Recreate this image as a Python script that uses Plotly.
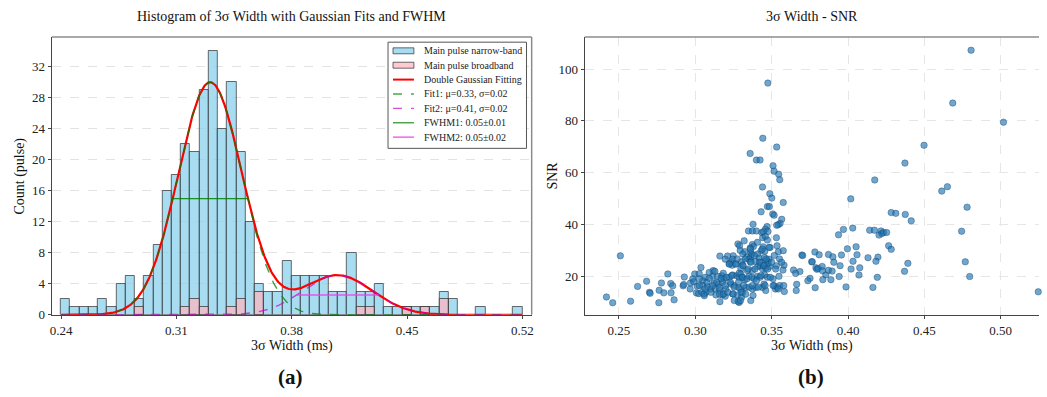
import numpy as np
import plotly.graph_objects as go

W, H = 1047, 397
SERIF = "Liberation Serif"

# ---------------- histogram (50 equal bins on 0.24-0.52 ms) ----------------
BIN_START, BIN_END, N_BINS = 0.24, 0.52, 50
narrow_band_counts = [2, 1, 1, 1, 2, 1, 4, 5, 2, 5,
                      9, 16, 18, 22, 21, 29, 34, 24, 30, 21,
                      12, 4, 3, 3, 7, 5, 5, 5, 5, 3,
                      3, 8, 3, 3, 4, 1, 1, 1, 1, 1,
                      1, 3, 2, 0, 0, 1, 0, 0, 0, 1]
broadband_counts = [0, 0, 0, 0, 0, 0, 0, 0, 1, 0,
                    0, 0, 0, 1, 2, 1, 0, 0, 1, 2,
                    0, 3, 0, 0, 0, 0, 0, 0, 0, 0,
                    0, 0, 1, 1, 0, 0, 0, 1, 0, 1,
                    0, 2, 0, 0, 0, 0, 0, 0, 0, 0]

# double Gaussian fit parameters
fit1_amp, fit1_mu, fit1_sigma = 30.0, 0.3305, 0.0193
fit2_amp, fit2_mu, fit2_sigma = 5.12, 0.4078, 0.0212

hist_x_ticks = [0.24, 0.31, 0.38, 0.45, 0.52]
hist_y_ticks = [0, 4, 8, 12, 16, 20, 24, 28, 32]
snr_x_ticks = [0.25, 0.30, 0.35, 0.40, 0.45, 0.50]
snr_y_ticks = [20, 40, 60, 80, 100]

# ---------------- 3-sigma width vs SNR ----------------
low_width_points = [
    (0.2418, 12.0), (0.2459, 9.8), (0.2509, 27.9), (0.2576, 10.4), (0.2622, 16.1),
    (0.2681, 18.1), (0.2700, 13.8), (0.2704, 13.4), (0.2761, 9.8), (0.2763, 14.6),
    (0.2778, 17.4), (0.2794, 13.6), (0.2820, 20.9), (0.2841, 13.6), (0.2839, 17.2),
    (0.2852, 16.3), (0.2861, 10.9), (0.2920, 16.3), (0.2924, 16.8), (0.2928, 19.7),
    (0.2966, 15.1), (0.2968, 17.4), (0.2983, 19.0), (0.2996, 20.9), (0.3007, 13.6),
    (0.3022, 13.3), (0.2990, 17.9), (0.3012, 16.2),
]
core_points = [
    (0.3576, 48.5), (0.3472, 46.9), (0.3485, 46.9), (0.3431, 44.9), (0.3507, 44.1),
    (0.3516, 43.6), (0.3566, 42.0), (0.3555, 40.4), (0.3543, 39.9), (0.3533, 39.7),
    (0.3378, 40.1), (0.3470, 39.2), (0.3459, 38.2), (0.3348, 37.5), (0.3374, 37.5),
    (0.3400, 37.5), (0.3435, 36.9), (0.3446, 37.2), (0.3476, 37.3), (0.3441, 34.9),
    (0.3459, 35.4), (0.3472, 34.0), (0.3531, 34.9), (0.3320, 33.7), (0.3279, 32.5),
    (0.3290, 31.8), (0.3374, 32.3), (0.3381, 31.5), (0.3359, 30.9), (0.3444, 31.4),
    (0.3431, 29.9), (0.3455, 29.7), (0.3490, 31.1), (0.3294, 30.0), (0.3324, 29.5),
    (0.3365, 29.2), (0.3370, 28.4), (0.3363, 27.5), (0.3311, 28.6), (0.3544, 29.5),
    (0.3248, 27.9), (0.3244, 26.6), (0.3233, 25.3), (0.3337, 27.3), (0.3352, 26.6),
    (0.3359, 25.6), (0.3409, 28.6), (0.3418, 27.0), (0.3396, 25.7), (0.3453, 27.3),
    (0.3468, 26.0), (0.3483, 26.6), (0.3161, 27.8), (0.3211, 27.8), (0.3196, 26.6),
    (0.3222, 24.8), (0.3242, 24.3), (0.3266, 24.8), (0.3303, 25.6), (0.3309, 24.3),
    (0.3298, 22.9), (0.3425, 25.4), (0.3425, 24.1), (0.3440, 22.9), (0.3409, 23.8),
    (0.3453, 24.3), (0.3461, 23.1), (0.3487, 23.8), (0.3476, 25.1), (0.3531, 24.1),
    (0.3581, 24.3), (0.3574, 22.4), (0.3117, 22.2), (0.3091, 21.5), (0.3065, 19.6),
    (0.3048, 18.3), (0.3037, 23.4), (0.3113, 20.0), (0.3146, 20.0), (0.3174, 20.2),
    (0.3189, 19.0), (0.3222, 19.6), (0.3244, 20.5), (0.3270, 20.2), (0.3287, 19.6),
    (0.3298, 20.9), (0.3309, 19.6), (0.3324, 18.7), (0.3341, 22.2), (0.3374, 22.2),
    (0.3352, 20.0), (0.3385, 19.0), (0.3407, 20.0), (0.3424, 19.6), (0.3453, 20.5),
    (0.3472, 19.6), (0.3509, 19.0), (0.3548, 20.0), (0.3516, 16.4), (0.3048, 16.4),
    (0.3080, 16.1), (0.3102, 15.1), (0.3070, 13.8), (0.3059, 12.5), (0.3124, 17.4),
    (0.3152, 17.0), (0.3178, 17.7), (0.3130, 15.1), (0.3161, 14.5), (0.3200, 15.1),
    (0.3135, 12.8), (0.3178, 12.8), (0.3196, 12.3), (0.3233, 17.0), (0.3255, 16.4),
    (0.3283, 15.7), (0.3298, 15.1), (0.3309, 13.8), (0.3331, 15.7), (0.3244, 13.2),
    (0.3276, 12.8), (0.3303, 11.9), (0.3287, 9.9), (0.3255, 10.6), (0.3281, 10.3),
    (0.3363, 10.6), (0.3161, 10.2), (0.3374, 15.1), (0.3396, 15.7), (0.3440, 15.7),
    (0.3461, 14.5), (0.3450, 17.0), (0.3525, 15.1), (0.3538, 15.7), (0.3553, 16.4),
    (0.3583, 14.1), (0.3579, 16.4), (0.3026, 21.0), (0.3026, 19.0), (0.3026, 16.4),
]
core_extra_points = [
    (0.3043, 13.8), (0.3057, 13.2), (0.3063, 15.1), (0.3076, 17.7), (0.3091, 19.2),
    (0.3102, 13.8), (0.3113, 16.4), (0.3128, 21.9), (0.3141, 17.7), (0.3157, 15.5),
    (0.3159, 13.1), (0.3170, 19.2), (0.3183, 21.2), (0.3185, 13.2), (0.3196, 16.4),
    (0.3204, 19.6), (0.3213, 13.8), (0.3222, 24.7), (0.3230, 17.7), (0.3239, 20.3),
    (0.3248, 13.2), (0.3254, 15.8), (0.3265, 24.7), (0.3274, 26.7), (0.3283, 17.7),
    (0.3287, 21.2), (0.3296, 10.6), (0.3300, 13.8), (0.3309, 19.6), (0.3313, 24.1),
    (0.3317, 16.4), (0.3326, 26.7), (0.3330, 13.1), (0.3339, 19.0), (0.3346, 22.8),
    (0.3352, 15.8), (0.3361, 30.5), (0.3365, 25.4), (0.3370, 19.6), (0.3374, 16.4),
    (0.3378, 12.6), (0.3387, 28.0), (0.3391, 22.8), (0.3400, 18.3), (0.3407, 33.1),
    (0.3413, 15.8), (0.3422, 25.4), (0.3430, 20.3), (0.3439, 30.5), (0.3448, 24.1),
    (0.3457, 16.4), (0.3465, 26.7), (0.3474, 22.8), (0.3483, 31.2), (0.3491, 19.6),
    (0.3500, 25.4), (0.3509, 16.4), (0.3517, 28.0), (0.3526, 22.8), (0.3535, 31.8),
    (0.3543, 15.1), (0.3552, 26.7), (0.3565, 25.4), (0.3576, 29.9),
]
spike_points = [
    (0.3475, 94.6), (0.3442, 73.3), (0.3533, 69.9), (0.3359, 67.4), (0.3400, 64.9),
    (0.3424, 64.9), (0.3509, 62.7), (0.3516, 60.6), (0.3546, 59.4), (0.3553, 57.3),
    (0.3440, 54.5), (0.3488, 51.9), (0.3501, 50.2),
]
wide_points = [
    (0.4018, 49.9), (0.4283, 44.6), (0.4313, 44.3), (0.4375, 43.9), (0.4414, 41.4),
    (0.3970, 38.1), (0.4031, 38.6), (0.3938, 36.0), (0.4142, 37.8), (0.4173, 37.8),
    (0.4216, 37.5), (0.4203, 35.9), (0.4222, 36.5), (0.4233, 36.9), (0.4253, 36.9),
    (0.4266, 31.8), (0.4283, 30.4), (0.3698, 28.2), (0.3703, 28.0), (0.3783, 29.4),
    (0.3811, 28.3), (0.3872, 28.4), (0.3901, 27.5), (0.3996, 30.6), (0.4053, 31.4),
    (0.4059, 28.3), (0.3957, 28.2), (0.4131, 27.2), (0.4196, 27.4), (0.4183, 25.8),
    (0.3643, 22.4), (0.3685, 21.8), (0.3657, 21.1), (0.3664, 16.9), (0.3661, 14.5),
    (0.3762, 25.6), (0.3766, 25.6), (0.3790, 23.3), (0.3796, 22.7), (0.3805, 23.0),
    (0.3831, 23.8), (0.3833, 22.1), (0.3855, 20.5), (0.3872, 22.3), (0.3896, 22.0),
    (0.3907, 25.4), (0.3948, 24.1), (0.4020, 22.8), (0.4033, 25.8), (0.4077, 23.3),
    (0.4072, 20.5), (0.3942, 19.9), (0.3888, 18.7), (0.3835, 18.7), (0.3751, 19.2),
    (0.3737, 18.3), (0.3785, 15.6), (0.3987, 15.9), (0.4163, 15.7), (0.4192, 19.6),
    (0.4370, 21.9), (0.4392, 25.0),
    (0.4806, 107.3), (0.4686, 86.9), (0.5018, 79.5), (0.4498, 70.6), (0.4373, 63.7),
    (0.4175, 57.2), (0.4614, 52.9), (0.4651, 54.6), (0.4780, 46.7), (0.4744, 37.4),
    (0.4768, 25.6), (0.4797, 19.9), (0.5246, 14.0),
]

all_points = low_width_points + core_points + core_extra_points + spike_points + wide_points
width_ms = [p[0] for p in all_points]
snr = [p[1] for p in all_points]

# ---------------- layout geometry (pixels) ----------------
V_SCALE = 392.0  # vertical pixel extent used for placing items


def fx(px):
    return px / W


def fy(py):
    return 1 - py / V_SCALE


LEFT_DOM = [fx(50), fx(531.7)]
RIGHT_DOM = [fx(585), fx(1041)]
Y_DOM = [fy(317.3), fy(37.3)]

bin_w = (BIN_END - BIN_START) / N_BINS
centers = [BIN_START + (i + 0.5) * bin_w for i in range(N_BINS)]


def nz(v):
    return [c if c > 0 else None for c in v]


fig = go.Figure()

fig.add_trace(go.Bar(
    x=centers, y=nz(narrow_band_counts), width=bin_w,
    marker=dict(color="rgba(135,206,235,0.72)",
                line=dict(color="rgba(45,45,45,0.7)", width=1)),
    xaxis="x", yaxis="y", showlegend=False, name="Main pulse narrow-band"))
fig.add_trace(go.Bar(
    x=centers, y=nz(broadband_counts), width=bin_w,
    marker=dict(color="rgba(255,182,193,0.72)",
                line=dict(color="rgba(45,45,45,0.7)", width=1)),
    xaxis="x", yaxis="y", showlegend=False, name="Main pulse broadband"))

xs = np.linspace(BIN_START, BIN_END, 600)
g1 = fit1_amp * np.exp(-0.5 * ((xs - fit1_mu) / fit1_sigma) ** 2)
g2 = fit2_amp * np.exp(-0.5 * ((xs - fit2_mu) / fit2_sigma) ** 2)

fig.add_trace(go.Scatter(x=xs, y=g1 + g2, mode="lines",
                         line=dict(color="#ff0000", width=2.2),
                         xaxis="x", yaxis="y", showlegend=False))
fig.add_trace(go.Scatter(x=xs, y=g1, mode="lines",
                         line=dict(color="rgba(0,128,0,0.75)", width=1.4, dash="dash"),
                         xaxis="x", yaxis="y", showlegend=False))
fig.add_trace(go.Scatter(x=xs, y=g2, mode="lines",
                         line=dict(color="rgba(200,0,200,0.7)", width=1.4, dash="dash"),
                         xaxis="x", yaxis="y", showlegend=False))

hw1 = fit1_sigma * np.sqrt(2 * np.log(2))
hw2 = fit2_sigma * np.sqrt(2 * np.log(2))
fig.add_trace(go.Scatter(x=[fit1_mu - hw1, fit1_mu + hw1], y=[fit1_amp / 2] * 2,
                         mode="lines", line=dict(color="rgba(0,128,0,0.85)", width=1.3),
                         xaxis="x", yaxis="y", showlegend=False))
fig.add_trace(go.Scatter(x=[fit2_mu - hw2, fit2_mu + hw2], y=[fit2_amp / 2] * 2,
                         mode="lines", line=dict(color="rgba(240,60,240,0.85)", width=1.5),
                         xaxis="x", yaxis="y", showlegend=False))

fig.add_trace(go.Scatter(
    x=width_ms, y=snr, mode="markers", xaxis="x2", yaxis="y2", showlegend=False,
    cliponaxis=False,
    marker=dict(size=6.5, color="rgba(31,119,180,0.65)",
                line=dict(color="rgba(20,55,95,0.6)", width=0.6))))

tick_font = dict(family=SERIF, size=13, color="#222")
axis_common = dict(showline=True, linecolor="#444", linewidth=1.2, mirror=False,
                   ticks="outside", ticklen=3, tickwidth=1, tickcolor="#444",
                   tickfont=tick_font, zeroline=False)

fig.update_layout(
    width=W, height=H,
    margin=dict(l=0, r=0, t=0, b=0),
    paper_bgcolor="white", plot_bgcolor="white",
    barmode="overlay", bargap=0,
    showlegend=False,
    xaxis=dict(domain=LEFT_DOM, range=[0.2344, 0.5256], anchor="y",
               tickvals=hist_x_ticks, ticktext=[f"{v:.2f}" for v in hist_x_ticks],
               showgrid=False, **axis_common),
    yaxis=dict(domain=Y_DOM, range=[0, 35.84], anchor="x",
               tickvals=hist_y_ticks, showgrid=True, gridcolor="#e3e3e3",
               griddash="dash", gridwidth=1, **axis_common),
    xaxis2=dict(domain=RIGHT_DOM, range=[0.2276, 0.5251], anchor="y2",
                tickvals=snr_x_ticks, ticktext=[f"{v:.2f}" for v in snr_x_ticks],
                showgrid=True, gridcolor="#e6e6e6", griddash="dash", **axis_common),
    yaxis2=dict(domain=Y_DOM, range=[5.1, 112.4], anchor="x2",
                tickvals=snr_y_ticks, showgrid=True, gridcolor="#e6e6e6",
                griddash="dash", **axis_common),
)

shapes = []
# upper and right frame lines
for xr, yr in (("x domain", "y domain"), ("x2 domain", "y2 domain")):
    shapes.append(dict(type="line", xref=xr, yref=yr, x0=0, x1=1, y0=1, y1=1,
                       line=dict(color="#8c8c8c", width=1.5)))
shapes.append(dict(type="line", xref="x domain", yref="y domain", x0=1, x1=1, y0=0, y1=1,
                   line=dict(color="#8c8c8c", width=1.5)))

# legend box of the histogram panel
shapes.append(dict(type="rect", xref="paper", yref="paper",
                   x0=fx(387.5), x1=fx(526.5), y0=fy(149.5), y1=fy(42.5),
                   fillcolor="rgba(255,255,255,0.9)", line=dict(color="#555", width=1)))

legend_rows = [
    ("patch", "rgba(135,206,235,0.72)", None, "Main pulse narrow-band"),
    ("patch", "rgba(255,182,193,0.72)", None, "Main pulse broadband"),
    ("line", "#ff0000", "solid", "Double Gaussian Fitting"),
    ("line", "rgba(0,128,0,0.7)", "dash", f"Fit1: μ={fit1_mu:.2f}, σ={fit1_sigma:.2f}"),
    ("line", "rgba(200,0,200,0.7)", "dash", f"Fit2: μ={fit2_mu:.2f}, σ={fit2_sigma:.2f}"),
    ("line", "rgba(0,128,0,0.75)", "solid", "FWHM1: 0.05±0.01"),
    ("line", "rgba(240,60,240,0.85)", "solid", "FWHM2: 0.05±0.02"),
]
annotations = []
row0, row_step = 51.2, 14.5
for i, (kind, color, dash, label_text) in enumerate(legend_rows):
    yc = row0 + i * row_step
    if kind == "patch":
        shapes.append(dict(type="rect", xref="paper", yref="paper",
                           x0=fx(392.5), x1=fx(413.5), y0=fy(yc + 3), y1=fy(yc - 3),
                           fillcolor=color, line=dict(color="rgba(45,45,45,0.7)", width=1)))
    else:
        shapes.append(dict(type="line", xref="paper", yref="paper",
                           x0=fx(392.5), x1=fx(413.5), y0=fy(yc), y1=fy(yc),
                           line=dict(color=color,
                                     width=2 if label_text.startswith("Double") else 1.4,
                                     dash="dash" if dash == "dash" else "solid")))
    annotations.append(dict(text=label_text, xref="paper", yref="paper", x=fx(421.5), y=fy(yc),
                            xanchor="left", yanchor="middle", showarrow=False,
                            font=dict(family=SERIF, size=10, color="#222")))


def label(text, px, py, size=14, angle=0, bold=False):
    annotations.append(dict(text=f"<b>{text}</b>" if bold else text,
                            xref="paper", yref="paper", x=fx(px), y=fy(py),
                            xanchor="center", yanchor="middle", showarrow=False,
                            textangle=angle,
                            font=dict(family=SERIF, size=size, color="#111")))


label("Histogram of 3σ Width with Gaussian Fits and FWHM", 291, 17)
label("3σ Width - SNR", 813, 17)
label("3σ Width (ms)", 291, 349)
label("3σ Width (ms)", 813, 349)
label("Count (pulse)", 18, 177, angle=-90)
label("SNR", 553, 177, angle=-90)
label("(a)", 290, 380, size=21, bold=True)
label("(b)", 812, 380, size=21, bold=True)

fig.update_layout(shapes=shapes, annotations=annotations)
fig.write_html("out.html")
